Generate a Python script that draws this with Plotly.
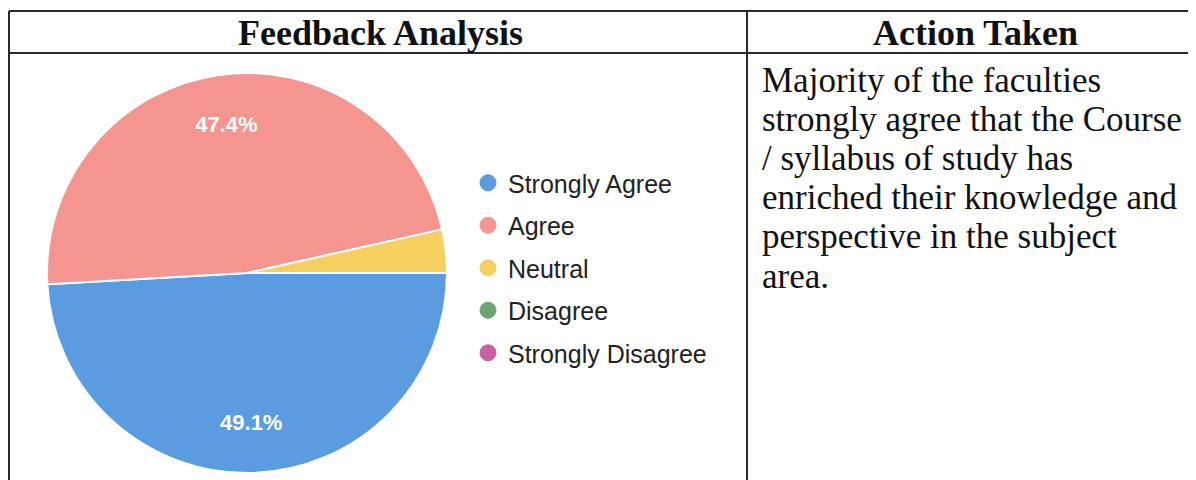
import plotly.graph_objects as go

# ─── Data ────────────────────────────────────────────────────────────
categories = ["Strongly Agree", "Agree", "Neutral", "Disagree", "Strongly Disagree"]
shares = [49.1, 47.4, 3.5, 0.0, 0.0]
slice_colors = ["#5b9be0", "#f4968f", "#f6d05e", "#6aa56f", "#c862a0"]

header_left = "Feedback Analysis"
header_right = "Action Taken"
action_lines = [
    "Majority of the faculties",
    "strongly agree that the Course",
    "/ syllabus of study has",
    "enriched their knowledge and",
    "perspective in the subject",
    "area.",
]

# page body has an 8px margin, so the figure is drawn 8px in from the corner
OFF = 8
W, H = 1196 - OFF, 480 - OFF
px = lambda v: (v - OFF) / W          # screen pixel -> paper x
py = lambda v: 1 - (v - OFF) / H      # screen pixel -> paper y

pie_domain = dict(x=[px(47), px(447)], y=[py(473), py(73)])

# only label the big slices, like the original export
labels_tpl = ["<b>%{percent:.1%}</b>" if v >= 5 else "" for v in shares]

fig = go.Figure()
# the solid pie
fig.add_trace(go.Pie(
    labels=categories, values=shares, sort=False,
    direction="clockwise", rotation=90,
    marker=dict(colors=slice_colors, line=dict(color="white", width=2)),
    textinfo="none",
    domain=pie_domain, showlegend=False,
    hoverinfo="label+percent",
))
# transparent ring on top, only there to push the % labels toward the rim
fig.add_trace(go.Pie(
    labels=categories, values=shares, sort=False,
    direction="clockwise", rotation=90, hole=0.5,
    marker=dict(colors=["rgba(0,0,0,0)"] * len(categories), line=dict(width=0)),
    texttemplate=labels_tpl,
    textposition="inside",
    insidetextorientation="horizontal",
    textfont=dict(family="Liberation Sans, Arial, sans-serif", size=22, color="white"),
    domain=pie_domain, showlegend=False,
    hoverinfo="skip",
))

# legend entries as circles
for i, (name, col) in enumerate(zip(categories, slice_colors)):
    fig.add_trace(go.Scatter(
        x=[None], y=[None], mode="markers", name=name,
        legendgroup=f"g{i}",
        marker=dict(symbol="circle", size=16, color=col,
                    line=dict(color=col, width=1)),
    ))

# ─── Table grid ──────────────────────────────────────────────────────
line_style = dict(color="#2a2a2a", width=2)
shapes = [
    dict(type="line", xref="paper", yref="paper", x0=px(9), x1=1.0, y0=py(11), y1=py(11), line=line_style),
    dict(type="line", xref="paper", yref="paper", x0=px(9), x1=1.0, y0=py(53), y1=py(53), line=line_style),
    dict(type="line", xref="paper", yref="paper", x0=px(9), x1=px(9), y0=py(11), y1=0, line=line_style),
    dict(type="line", xref="paper", yref="paper", x0=px(747), x1=px(747), y0=py(11), y1=0, line=line_style),
]

serif = "Liberation Serif, Times New Roman, serif"
annotations = [
    dict(text=f"<b>{header_left}</b>", x=px(380), y=py(33), xref="paper", yref="paper",
         xanchor="center", yanchor="middle",
         showarrow=False, font=dict(family=serif, size=36, color="#111")),
    dict(text=f"<b>{header_right}</b>", x=px(975), y=py(33), xref="paper", yref="paper",
         xanchor="center", yanchor="middle",
         showarrow=False, font=dict(family=serif, size=36, color="#111")),
]
for k, line in enumerate(action_lines):
    annotations.append(dict(
        text=line, x=px(760), y=py(80 + 39.2 * k), xref="paper", yref="paper",
        xanchor="left", yanchor="middle", align="left", showarrow=False,
        font=dict(family=serif, size=35, color="#111"),
    ))

fig.update_layout(
    width=W, height=H,
    paper_bgcolor="white", plot_bgcolor="white",
    margin=dict(l=0, r=0, t=0, b=0),
    xaxis=dict(visible=False), yaxis=dict(visible=False),
    showlegend=True,
    legend=dict(x=px(468), y=py(160), xanchor="left", yanchor="top",
                font=dict(family="Liberation Sans, Arial, sans-serif", size=25, color="#222"),
                tracegroupgap=7, bgcolor="rgba(0,0,0,0)", itemclick=False),
    shapes=shapes,
    annotations=annotations,
)

fig.write_html("out.html")
